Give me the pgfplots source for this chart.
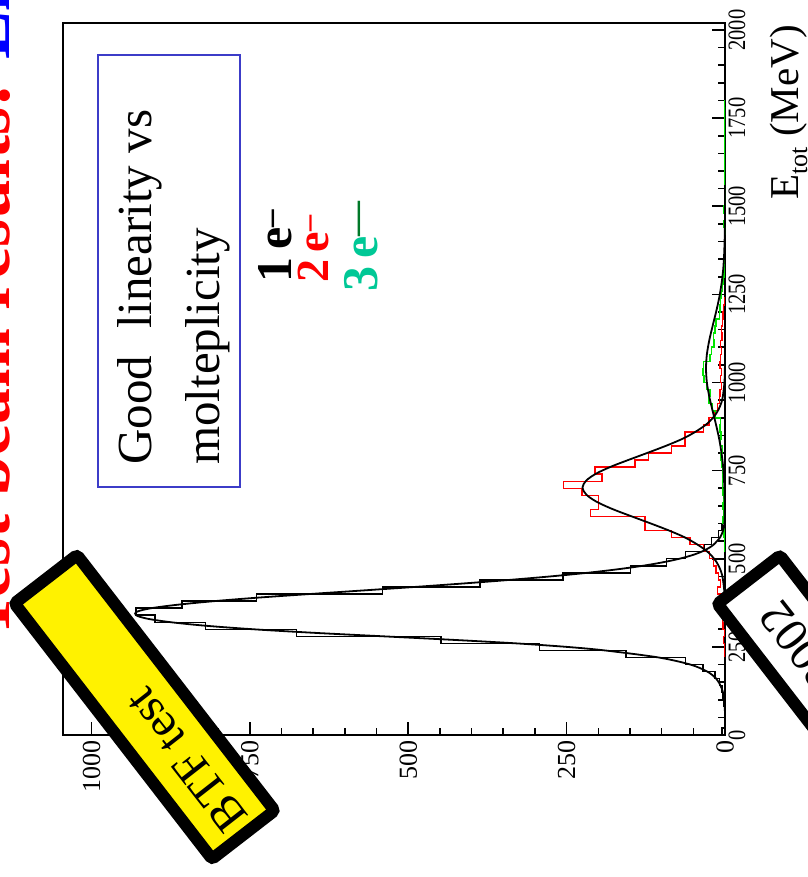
\documentclass[border=0pt]{standalone}
\usepackage{fontspec}
\setmainfont{Liberation Serif}
\usepackage{pgfplots}
\usepackage{pgfplotstable}
\pgfplotsset{compat=1.18}
\definecolor{myred}{RGB}{255,0,0}
\definecolor{mygreen}{RGB}{0,230,0}
\definecolor{tealthree}{RGB}{0,200,150}
\definecolor{dkgreen}{RGB}{0,120,40}
\definecolor{boxblue}{RGB}{60,60,200}
\definecolor{titleblue}{RGB}{0,0,255}

\pgfplotstableread{
E c
0 5
20 0
40 1
60 1
80 2
100 3
120 5
140 9
160 16
180 35
200 62
220 156
240 293
260 448
280 676
300 820
320 900
340 930
360 857
380 740
400 541
420 387
440 256
460 149
480 92
500 62
520 32
540 21
560 10
580 5
600 3
620 1
640 0
660 0
}\histone

\pgfplotstableread{
E c
220 0
240 1
260 2
280 1
300 3
320 4
340 3
360 5
380 6
400 12
420 7
440 10
460 14
480 18
500 24
520 34
540 55
560 84
580 126
600 126
620 212
640 200
660 200
680 226
700 255
720 194
740 205
760 142
780 121
800 84
820 63
840 63
860 34
880 25
900 16
920 12
940 9
960 8
980 6
1000 7
1020 6
1040 8
1060 7
1080 6
1100 7
1120 5
1140 6
1160 4
1180 3
1200 2
1220 1
1240 0
}\histtwo

\pgfplotstableread{
E c
520 0
540 1
560 2
580 1
600 3
620 2
640 3
660 2
680 3
700 4
720 3
740 4
760 5
780 6
800 4
820 7
840 6
860 8
880 7
900 15
920 20
940 25
960 24
980 28
1000 33
1020 35
1040 34
1060 24
1080 21
1100 17
1120 18
1140 16
1160 14
1180 9
1200 8
1220 7
1240 6
1260 4
1280 3
1300 2
1320 2
1340 1
1360 1
1380 1
1400 1
1420 0
1440 2
1460 1
1480 2
1500 0
1780 1
1800 0
}\histthree

\pgfplotstableread{
E c
60 0
100 1
120 3
140 7
160 14
180 28
200 55
220 105
240 190
250 250
260 330
270 430
280 540
290 650
300 745
310 820
320 875
330 912
340 930
350 928
360 905
370 862
380 805
390 735
400 655
410 572
420 490
430 412
440 340
450 275
460 218
470 170
480 130
490 98
500 72
510 52
520 37
530 26
540 18
560 8
580 3
600 1
650 0
}\fitone

\pgfplotstableread{
E c
352 0
402 0.8
452 4.3
482 10.6
502 18
522 29
542 45
562 65
582 91
602 120
622 150
642 179
662 203
682 219
702 225
722 219
742 203
762 179
782 150
802 120
822 91
842 65
862 45
882 29
902 18
922 10.6
952 4.3
1002 0.8
1052 0.1
1100 0
}\fittwo

\pgfplotstableread{
E c
600 0.03
680 0.65
720 1.45
760 2.9
800 5.5
840 9.2
880 14.1
920 19.6
960 24.8
1000 28.6
1040 30
1080 28.6
1120 24.8
1160 19.6
1200 14.1
1240 9.2
1280 5.5
1320 2.9
1360 1.45
1400 0.65
1440 0.26
1500 0.05
1560 0
}\fitthree

\begin{document}
\begin{tikzpicture}
\useasboundingbox (0pt,0pt) rectangle (807pt,877pt);
\begin{axis}[
  at={(394pt,498pt)}, anchor=center,
  width=662pt, height=712pt, scale only axis,
  x dir=reverse,
  xmin=0, xmax=1045, ymin=0, ymax=2020,
  axis line style={line width=1.6pt},
  xtick={0,250,500,750,1000},
  ytick={0,250,...,2000},
  minor x tick num=4, minor y tick num=4,
  tick align=inside,
  xtick pos=bottom, xticklabel pos=bottom,
  ytick pos=right, yticklabel pos=right,
  major tick length=13pt, minor tick length=7pt,
  tick style={line width=1.6pt, black},
  scaled ticks=false,
  /pgf/number format/1000 sep={},
  /pgf/number format/assume math mode=true,
  xticklabel style={rotate=90, anchor=east, font=\fontsize{26}{26}\selectfont},
  xticklabel shift=2pt,
  yticklabel style={rotate=90, anchor=north, xscale=0.82, font=\fontsize{25}{25}\selectfont},
]
\addplot[black, line width=1.4pt, const plot mark right] table[x=c, y=E] {\histone};
\addplot[myred, line width=1.4pt, const plot mark right] table[x=c, y=E] {\histtwo};
\addplot[mygreen, line width=1.6pt, const plot mark right] table[x=c, y=E] {\histthree};
\addplot[black, line width=1.8pt, smooth] table[x=c, y=E] {\fitone};
\addplot[black, line width=1.8pt, smooth] table[x=c, y=E] {\fittwo};
\addplot[black, line width=1.8pt, smooth] table[x=c, y=E] {\fitthree};
\end{axis}

% axis title
\node[rotate=90, anchor=base east, inner sep=0pt, font=\fontsize{41}{41}\selectfont]
  at (798pt,852pt) {E\raisebox{-0.22em}{\fontsize{26}{26}\selectfont tot} (MeV)};

% slide title, cut at the edge
\node[rotate=90, anchor=base west, inner sep=0pt, font=\bfseries\fontsize{72}{72}\selectfont, myred]
  at (9pt,237pt) {Test beam results: \textcolor{titleblue}{Linearity}};

% text box
\draw[boxblue, line width=1.5pt] (98pt,390pt) rectangle (240pt,822pt);
\node[rotate=90, anchor=west, align=left, inner sep=0pt, font=\fontsize{49}{68}\selectfont]
  at (174pt,412pt) {Good\hspace{0.3em} linearity vs\\molteplicity};

% multiplicity labels
\node[rotate=90, anchor=base west, inner sep=0pt, font=\bfseries\fontsize{50}{50}\selectfont]
  at (291pt,594pt) {1\,e\textsuperscript{--}};
\node[rotate=90, anchor=base west, inner sep=0pt, font=\bfseries\fontsize{46}{46}\selectfont, myred]
  at (328pt,594pt) {2\,e\textsuperscript{--}};
\node[rotate=90, anchor=base west, inner sep=0pt, font=\bfseries\fontsize{50}{50}\selectfont, tealthree]
  at (377pt,585pt) {3\,e\textsuperscript{\color{dkgreen}---}};

% stickers
\node[rotate=127.7, draw=black, line width=12pt, fill=yellow, minimum width=323pt, minimum height=79pt, inner sep=0pt, rounded corners=3pt] at (144.5pt,170pt) {};
\node[rotate=128, inner sep=0pt, font=\fontsize{48}{48}\selectfont] at (186pt,117pt) {BTF test};
\node[rotate=127.7, draw=black, line width=12pt, fill=white, minimum width=323pt, minimum height=79pt, inner sep=0pt, rounded corners=3pt] at (847.5pt,169.5pt) {};
\node[rotate=128, inner sep=0pt, font=\fontsize{48}{48}\selectfont] at (799pt,232pt) {2002};
\end{tikzpicture}
\end{document}
